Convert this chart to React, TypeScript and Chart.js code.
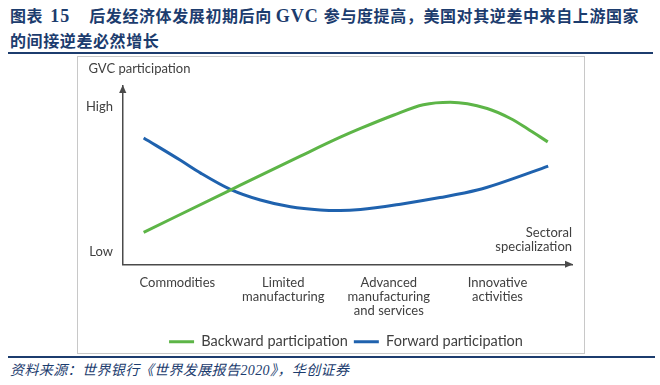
import React, { useEffect, useRef } from "react";
import { Chart, registerables } from "chart.js";

Chart.register(...registerables);

// ---- data ----
const STAGE_LABELS: string[][] = [
  ["Commodities"],
  ["Limited", "manufacturing"],
  ["Advanced", "manufacturing", "and services"],
  ["Innovative", "activities"],
];
const STAGE_POS = [12.1, 35.7, 59.2, 83.4];

const LEVEL_LABELS = ["Low", "High"];
const LEVEL_POS = [7.0, 88.1];

const BACKWARD_X = [4.6, 23.9, 39.5, 48.4, 52.9, 60.2, 66.9, 72.9, 81.1, 86.3, 90.0, 94.6];
const BACKWARD_Y = [18.0, 41.7, 60.7, 71.3, 76.2, 83.6, 89.5, 90.9, 87.4, 81.8, 76.2, 68.7];

const FORWARD_X = [4.6, 12.8, 17.3, 23.9, 30.6, 37.3, 43.9, 48.4, 52.9, 61.8, 70.6, 78.9, 84.0, 94.7];
const FORWARD_Y = [70.9, 58.4, 51.2, 42.1, 36.1, 32.3, 30.5, 30.2, 30.8, 33.8, 37.5, 41.7, 45.6, 55.1];

const SERIES_NAMES = ["Backward participation", "Forward participation"];
const Y_TITLE = "GVC participation";
const X_TITLE = ["Sectoral", "specialization"];

const TITLE_LINE1 = ["图表", "15", "后发经济体发展初期后向", "GVC", "参与度提高，美国对其逆差中来自上游国家"];
const TITLE_LINE2 = "的间接逆差必然增长";
const SOURCE = "资料来源：世界银行《世界发展报告2020》，华创证券";

// ---- styles ----
const GREEN = "#5DB547";
const BLUE = "#1F62AE";
const AXIS = "#4a4a4a";
const TEXT = "#404040";
const NAVY = "#1C3C6E";
const FONT = "Lato, 'Noto Sans', sans-serif";

const annotPlugin = {
  id: "annot",
  afterDraw(chart: any) {
    const { ctx, chartArea: a } = chart;
    ctx.save();
    ctx.fillStyle = AXIS;
    const yx = a.left - 0.25;
    // y arrow head
    ctx.beginPath();
    ctx.moveTo(yx, a.top - 1);
    ctx.lineTo(yx - 3.6, a.top + 7);
    ctx.lineTo(yx + 3.6, a.top + 7);
    ctx.closePath();
    ctx.fill();
    // x arrow head
    const xy = a.bottom - 0.25;
    ctx.beginPath();
    ctx.moveTo(a.right + 1, xy);
    ctx.lineTo(a.right - 7, xy - 3.6);
    ctx.lineTo(a.right - 7, xy + 3.6);
    ctx.closePath();
    ctx.fill();

    ctx.fillStyle = TEXT;
    ctx.font = `13px ${FONT}`;
    ctx.textBaseline = "middle";
    ctx.textAlign = "left";
    ctx.fillText(Y_TITLE, a.left - 34.5, a.top - 17);
    ctx.textAlign = "right";
    ctx.fillText(X_TITLE[0], a.right, a.bottom - 31.5);
    ctx.fillText(X_TITLE[1], a.right, a.bottom - 17.5);
    ctx.restore();
  },
};

function ChartCanvas() {
  const ref = useRef<HTMLCanvasElement>(null);
  useEffect(() => {
    const canvas = ref.current!;
    const chart = new Chart(canvas, {
      type: "line",
      data: {
        datasets: [
          {
            label: SERIES_NAMES[0],
            data: BACKWARD_X.map((x, i) => ({ x, y: BACKWARD_Y[i] })),
            borderColor: GREEN,
            backgroundColor: GREEN,
            borderWidth: 3,
            pointRadius: 0,
            cubicInterpolationMode: "monotone",
            yAxisID: "y",
          },
          {
            label: SERIES_NAMES[1],
            data: FORWARD_X.map((x, i) => ({ x, y: FORWARD_Y[i] })),
            borderColor: BLUE,
            backgroundColor: BLUE,
            borderWidth: 3,
            pointRadius: 0,
            cubicInterpolationMode: "monotone",
            yAxisID: "y",
          },
        ],
      },
      options: {
        responsive: false,
        animation: false,
        devicePixelRatio: 1,
        layout: { padding: { left: 32, right: 0, top: 86, bottom: 26 } },
        plugins: {
          tooltip: { enabled: false },
          title: { display: false },
          legend: {
            position: "bottom",
            align: "center",
            labels: {
              boxWidth: 25,
              boxHeight: 3,
              padding: 6,
              color: TEXT,
              font: { family: FONT, size: 14.5 },
              generateLabels: (c: any) =>
                c.data.datasets.map((ds: any, i: number) => ({
                  text: ds.label,
                  fillStyle: ds.borderColor,
                  strokeStyle: ds.borderColor,
                  lineWidth: 0,
                  hidden: false,
                  datasetIndex: i,
                  fontColor: TEXT,
                })),
            },
          },
        },
        scales: {
          x: {
            type: "linear",
            min: 0,
            max: 100,
            position: "bottom",
            grid: { display: false, drawTicks: false },
            border: { display: true, color: AXIS, width: 1.5 },
            ticks: {
              autoSkip: false,
              maxRotation: 0,
              minRotation: 0,
              padding: 11,
              color: TEXT,
              font: { family: FONT, size: 13, lineHeight: 14 / 13 },
              callback: (_v: any, i: number) => STAGE_LABELS[i],
            },
            afterBuildTicks: (s: any) => {
              s.ticks = STAGE_POS.map((v) => ({ value: v }));
            },
            afterFit: (s: any) => {
              s.height = 64;
            },
          },
          y: {
            type: "linear",
            min: 0,
            max: 100,
            position: "left",
            grid: { display: false, drawTicks: false },
            border: { display: true, color: AXIS, width: 1.5 },
            ticks: {
              padding: 10,
              color: TEXT,
              font: { family: FONT, size: 13 },
              callback: (_v: any, i: number) => LEVEL_LABELS[i],
            },
            afterBuildTicks: (s: any) => {
              s.ticks = LEVEL_POS.map((v) => ({ value: v }));
            },
            afterFit: (s: any) => {
              s.width = 91;
            },
          },
          y2: {
            type: "linear",
            position: "right",
            display: true,
            grid: { display: false, drawTicks: false },
            border: { display: false },
            ticks: { display: false },
            afterFit: (s: any) => {
              s.width = 88;
            },
          },
        },
      } as any,
      plugins: [annotPlugin],
    });
    return () => chart.destroy();
  }, []);
  return (
    <canvas
      ref={ref}
      width={660}
      height={385}
      style={{ position: "absolute", left: 0, top: 0, width: 660, height: 385 }}
    />
  );
}

export default function App() {
  const titleFont = "'Liberation Serif', 'Noto Sans CJK SC', serif";
  const latin: React.CSSProperties = { fontSize: 18, letterSpacing: 1 };
  return (
    <div
      style={{
        position: "absolute",
        left: 0,
        top: 0,
        width: 660,
        height: 385,
        background: "#fff",
        overflow: "hidden",
      }}
    >
      <div
        style={{
          position: "absolute",
          left: 10,
          top: 4,
          fontFamily: titleFont,
          fontWeight: 700,
          fontSize: 16,
          lineHeight: "25px",
          letterSpacing: 0.6,
          color: NAVY,
          whiteSpace: "pre",
        }}
      >
        <div>
          <span>{TITLE_LINE1[0]}</span>
          <span style={{ ...latin, marginLeft: 7 }}>{TITLE_LINE1[1]}</span>
          <span style={{ marginLeft: 19 }}>{TITLE_LINE1[2]}</span>
          <span style={{ ...latin, marginLeft: 4 }}>{TITLE_LINE1[3]}</span>
          <span style={{ marginLeft: 5 }}>{TITLE_LINE1[4]}</span>
        </div>
        <div>{TITLE_LINE2}</div>
      </div>
      <div style={{ position: "absolute", left: 8, top: 52, width: 645, height: 2, background: NAVY }} />
      <div
        style={{
          position: "absolute",
          left: 77,
          top: 56,
          width: 508,
          height: 298,
          border: "1px solid #c8c8c8",
          boxSizing: "border-box",
          background: "#fff",
        }}
      />
      <div style={{ position: "absolute", left: 8, top: 356, width: 647, height: 2, background: NAVY }} />
      <div
        style={{
          position: "absolute",
          left: 10,
          top: 362,
          fontFamily: titleFont,
          fontStyle: "italic",
          fontSize: 14,
          lineHeight: "18px",
          letterSpacing: 0.4,
          color: NAVY,
          whiteSpace: "pre",
        }}
      >
        {SOURCE}
      </div>
      <ChartCanvas />
    </div>
  );
}
